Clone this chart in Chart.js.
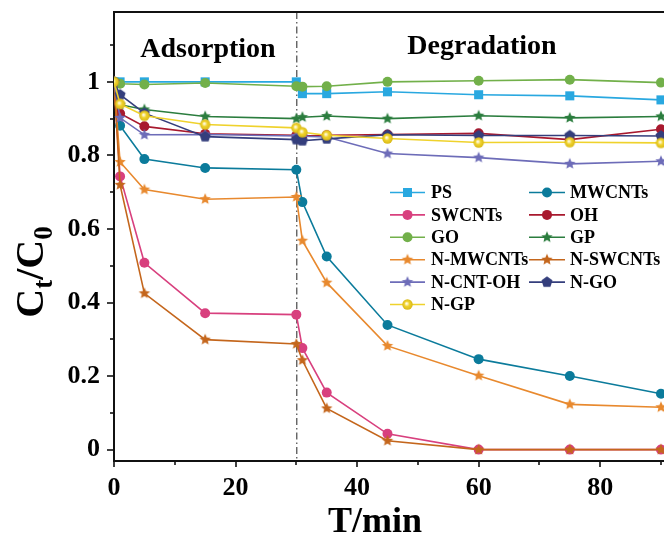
<!DOCTYPE html>
<html lang="en">
<head>
<meta charset="UTF-8">
<title>Ct/C0 vs T</title>
<style>
  html, body { margin: 0; padding: 0; background: #fff; overflow: hidden; }
  #wrap { width: 664px; height: 535px; }
</style>
</head>
<body>
<div id="wrap"><canvas id="chart" width="664" height="535"></canvas></div>

<script src="https://cdn.jsdelivr.net/npm/chart.js"></script>
<script>
// sampling times (min)
const times = [0, 1, 5, 15, 30, 31, 35, 45, 60, 75, 90];

// Ct/C0 for each material
const ps      = [1.000, 1.000, 1.000, 1.000, 1.000, 0.968, 0.968, 0.973, 0.965, 0.962, 0.951];
const mwcnts  = [1.000, 0.881, 0.790, 0.766, 0.761, 0.673, 0.525, 0.339, 0.246, 0.200, 0.152];
const swcnts  = [1.000, 0.743, 0.508, 0.371, 0.367, 0.276, 0.155, 0.043, 0.000, 0.000, 0.000];
const oh      = [1.000, 0.914, 0.879, 0.859, 0.855, 0.853, 0.855, 0.857, 0.860, 0.843, 0.871];
const go      = [1.000, 0.995, 0.993, 0.997, 0.988, 0.987, 0.988, 1.000, 1.003, 1.006, 0.998];
const gp      = [1.000, 0.938, 0.925, 0.906, 0.900, 0.904, 0.907, 0.900, 0.908, 0.902, 0.906];
const nMwcnts = [1.000, 0.782, 0.707, 0.681, 0.687, 0.568, 0.454, 0.282, 0.201, 0.123, 0.115];
const nSwcnts = [1.000, 0.720, 0.425, 0.299, 0.287, 0.243, 0.112, 0.024, 0.000, 0.000, 0.000];
const nCntOh  = [1.000, 0.902, 0.856, 0.857, 0.853, 0.852, 0.850, 0.805, 0.794, 0.777, 0.784];
const nGo     = [1.000, 0.965, 0.915, 0.851, 0.843, 0.840, 0.845, 0.856, 0.854, 0.854, 0.853];
const nGp     = [1.000, 0.940, 0.908, 0.884, 0.875, 0.863, 0.855, 0.846, 0.835, 0.836, 0.834];

const seriesNames  = ['PS', 'MWCNTs', 'SWCNTs', 'OH', 'GO', 'GP', 'N-MWCNTs', 'N-SWCNTs', 'N-CNT-OH', 'N-GO', 'N-GP'];
const seriesValues = [ps, mwcnts, swcnts, oh, go, gp, nMwcnts, nSwcnts, nCntOh, nGo, nGp];

// axis tick labels
const xTickLabels = [0, 20, 40, 60, 80];
const yTickLabels = [0, 0.2, 0.4, 0.6, 0.8, 1];

const colors  = ['#29a8e0', '#0b7b9b', '#d8407e', '#a8192e', '#72b04a', '#2b7d3e',
                 '#e8892e', '#c4661c', '#6d6cb8', '#343e7c', '#efd22c'];
const markers = ['rect', 'circle', 'circle', 'circle', 'circle', 'star',
                 'star', 'star', 'star', 'pentagon', 'ball'];

const FONT = "'Liberation Serif', 'Times New Roman', serif";

// --- marker images -------------------------------------------------------
function polyImage(color, r, n, innerRatio) {
  const size = Math.ceil(r * 2 + 2);
  const c = document.createElement('canvas');
  c.width = c.height = size;
  const g = c.getContext('2d');
  g.translate(size / 2, size / 2);
  g.beginPath();
  const steps = innerRatio ? n * 2 : n;
  for (let i = 0; i < steps; i++) {
    const rad = innerRatio && i % 2 ? r * innerRatio : r;
    const a = -Math.PI / 2 + i * 2 * Math.PI / steps;
    g.lineTo(rad * Math.cos(a), rad * Math.sin(a));
  }
  g.closePath();
  g.fillStyle = color;
  g.fill();
  return c;
}

function ballImage(color, r) {
  const size = Math.ceil(r * 2 + 2);
  const c = document.createElement('canvas');
  c.width = c.height = size;
  const g = c.getContext('2d');
  const m = size / 2;
  const grad = g.createRadialGradient(m - 1, m - 1, 0.5, m, m, r);
  grad.addColorStop(0, '#fffbe6');
  grad.addColorStop(0.45, color);
  grad.addColorStop(1, '#d9b918');
  g.beginPath();
  g.arc(m, m, r, 0, Math.PI * 2);
  g.fillStyle = grad;
  g.fill();
  return c;
}

function markerStyle(kind, color) {
  switch (kind) {
    case 'star':     return { pointStyle: polyImage(color, 6, 5, 0.45), radius: 6 };
    case 'pentagon': return { pointStyle: polyImage(color, 5.8, 5, 0), radius: 6 };
    case 'ball':     return { pointStyle: ballImage(color, 5.2), radius: 6 };
    case 'rect':     return { pointStyle: 'rect', radius: 6.4 };
    default:         return { pointStyle: 'circle', radius: 5 };
  }
}

const datasets = seriesNames.map((name, i) => {
  const m = markerStyle(markers[i], colors[i]);
  return {
    label: name,
    data: times.map((t, k) => ({ x: t, y: seriesValues[i][k] })),
    borderColor: colors[i],
    backgroundColor: colors[i],
    borderWidth: 1.6,
    pointStyle: m.pointStyle,
    pointRadius: m.radius,
    pointBorderWidth: 0,
    pointBackgroundColor: colors[i],
    tension: 0,
    order: seriesNames.length - i
  };
});

// --- extra drawing: frame, ticks, divider, labels, legend ------------------
const decor = {
  id: 'decor',
  beforeDatasetsDraw(chart) {
    const { ctx, chartArea: a, scales: { x } } = chart;
    const px = x.getPixelForValue(30);
    ctx.save();
    ctx.strokeStyle = '#222';
    ctx.lineWidth = 1;
    ctx.setLineDash([7, 3, 1.5, 3]);
    ctx.beginPath();
    ctx.moveTo(px + 0.5, a.top);
    ctx.lineTo(px + 0.5, a.bottom);
    ctx.stroke();
    ctx.restore();
  },
  afterDraw(chart) {
    const { ctx, chartArea: a, scales: { x, y } } = chart;
    ctx.save();

    // top frame line
    ctx.strokeStyle = '#111';
    ctx.lineWidth = 2;
    ctx.beginPath();
    ctx.moveTo(a.left - 1, a.top);
    ctx.lineTo(a.right, a.top);
    ctx.stroke();

    // tick marks, long on labelled values
    ctx.lineWidth = 1.6;
    y.ticks.forEach(t => {
      const py = Math.round(y.getPixelForValue(t.value));
      const major = yTickLabels.some(v => Math.abs(v - t.value) < 1e-6);
      ctx.beginPath();
      ctx.moveTo(a.left, py);
      ctx.lineTo(a.left - (major ? 7 : 4), py);
      ctx.stroke();
    });
    x.ticks.forEach(t => {
      const px = Math.round(x.getPixelForValue(t.value));
      const major = xTickLabels.some(v => Math.abs(v - t.value) < 1e-6);
      ctx.beginPath();
      ctx.moveTo(px, a.bottom);
      ctx.lineTo(px, a.bottom + (major ? 6 : 4));
      ctx.stroke();
    });

    // phase labels
    ctx.fillStyle = '#000';
    ctx.textAlign = 'center';
    ctx.textBaseline = 'alphabetic';
    ctx.font = 'bold 28px ' + FONT;
    ctx.fillText('Adsorption', 208, 57);
    ctx.fillText('Degradation', 482, 54);

    // x axis title
    ctx.font = 'bold 36px ' + FONT;
    ctx.fillText('T/min', 375, 532);

    // y axis title: Ct/C0 with subscripts
    ctx.save();
    ctx.translate(43, 272);
    ctx.rotate(-Math.PI / 2);
    const big = 'bold 40px ' + FONT, sub = 'bold 27px ' + FONT;
    const parts = [['C', big, 0], ['t', sub, 9], ['/', big, 0], ['C', big, 0], ['0', sub, 9]];
    let w = 0;
    parts.forEach(p => { ctx.font = p[1]; w += ctx.measureText(p[0]).width; });
    let cx = -w / 2;
    ctx.textAlign = 'left';
    parts.forEach(p => {
      ctx.font = p[1];
      ctx.fillText(p[0], cx, p[2]);
      cx += ctx.measureText(p[0]).width;
    });
    ctx.restore();

    // legend, two columns
    const rowY0 = 192.5, rowStep = 22.4;
    const cols = [{ l0: 390, l1: 425, tx: 431 }, { l0: 529, l1: 565, tx: 570 }];
    ctx.font = 'bold 18px ' + FONT;
    ctx.textAlign = 'left';
    ctx.textBaseline = 'middle';
    datasets.forEach((ds, i) => {
      const col = cols[i % 2];
      const ry = rowY0 + Math.floor(i / 2) * rowStep;
      ctx.strokeStyle = ds.borderColor;
      ctx.lineWidth = 1.6;
      ctx.beginPath();
      ctx.moveTo(col.l0, ry);
      ctx.lineTo(col.l1, ry);
      ctx.stroke();
      ctx.fillStyle = ds.pointBackgroundColor;
      Chart.helpers.drawPoint(ctx, {
        pointStyle: ds.pointStyle, radius: ds.pointRadius, borderWidth: 0, rotation: 0
      }, (col.l0 + col.l1) / 2, ry);
      ctx.fillStyle = '#000';
      ctx.fillText(ds.label, col.tx, ry + 1);
    });

    ctx.restore();
  }
};

const tickFont = { family: FONT, size: 26, weight: 'bold' };

new Chart(document.getElementById('chart').getContext('2d'), {
  type: 'line',
  data: { datasets },
  options: {
    responsive: false,
    animation: false,
    layout: { autoPadding: false, padding: { top: 12, left: 0, right: 0, bottom: 0 } },
    plugins: { legend: { display: false }, tooltip: { enabled: false } },
    scales: {
      x: {
        type: 'linear',
        min: 0,
        max: 90.5,
        grid: { display: false, drawTicks: false },
        border: { display: true, color: '#111', width: 2 },
        ticks: {
          stepSize: 10,
          includeBounds: false,
          autoSkip: false,
          maxRotation: 0,
          padding: 12,
          color: '#000',
          font: tickFont,
          callback: v => xTickLabels.includes(Math.round(v)) && Math.abs(v - Math.round(v)) < 1e-6 ? String(Math.round(v)) : ''
        },
        afterFit: s => { s.height = 74; s.paddingLeft = 0; s.paddingRight = 0; }
      },
      y: {
        min: -0.031,
        max: 1.19,
        grid: { display: false, drawTicks: false },
        border: { display: true, color: '#111', width: 2 },
        ticks: {
          stepSize: 0.1,
          includeBounds: false,
          autoSkip: false,
          padding: 14,
          color: '#000',
          font: tickFont,
          callback: v => {
            const hit = yTickLabels.find(t => Math.abs(t - v) < 1e-6);
            return hit === undefined ? '' : String(hit);
          }
        },
        afterFit: s => { s.width = 114; s.paddingTop = 0; s.paddingBottom = 0; }
      }
    }
  },
  plugins: [decor]
});
</script>
</body>
</html>
